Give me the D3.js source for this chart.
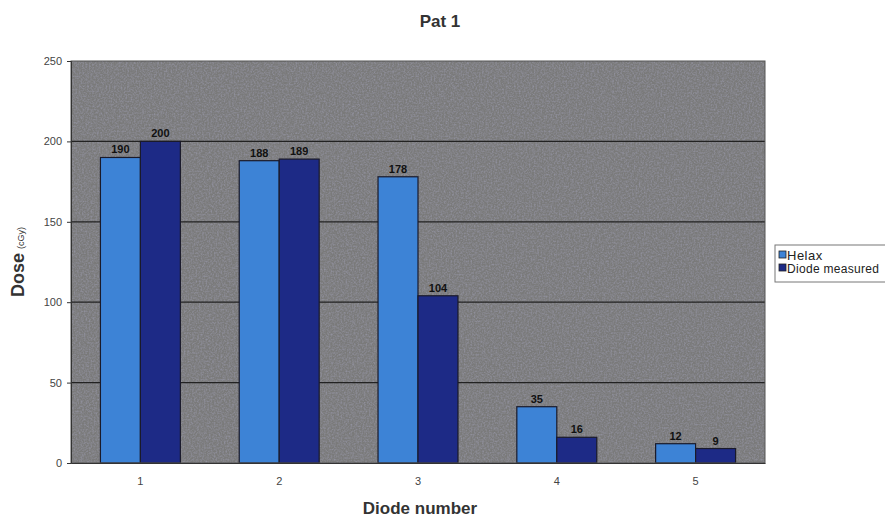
<!DOCTYPE html>
<html>
<head>
<meta charset="utf-8">
<script src="https://cdn.jsdelivr.net/npm/d3@7"></script>
<style>
  html, body { margin: 0; padding: 0; background: #fff; }
  svg { display: block; font-family: Arial, "Liberation Sans", sans-serif; }
</style>
</head>
<body>
<svg id="chart" width="885" height="522"></svg>
<script>
// Dose per diode: planned (Helax) vs measured
const diodes = ["1", "2", "3", "4", "5"];
const seriesNames = ["Helax", "Diode measured"];
const helax = [190, 188, 178, 35, 12];
const measured = [200, 189, 104, 16, 9];
const yTicks = [0, 50, 100, 150, 200, 250];
const colors = ["#3d83d6", "#1d2a86"];

const svg = d3.select("#chart");
const margin = { left: 71, top: 61, right: 885 - 765, bottom: 522 - 463 };
const W = 885, H = 522;
const plotW = W - margin.left - margin.right;
const plotH = H - margin.top - margin.bottom;

const defs = svg.append("defs");
const grain = defs.append("filter").attr("id", "grain")
  .attr("x", 0).attr("y", 0).attr("width", "100%").attr("height", "100%");
grain.append("feTurbulence").attr("type", "fractalNoise")
  .attr("baseFrequency", 0.6).attr("numOctaves", 2).attr("seed", 4).attr("result", "n");
grain.append("feColorMatrix").attr("in", "n").attr("type", "matrix")
  .attr("values", "0 0 0 0 0.40  0 0 0 0 0.40  0 0 0 0 0.55  0 0 0 1.1 -0.4");

const g = svg.append("g").attr("transform", `translate(${margin.left},${margin.top})`);

const x = d3.scaleBand().domain(diodes).range([0, plotW]);
const barW = x.bandwidth() * 0.288;
const xs = d3.scaleBand().domain(seriesNames)
  .range([x.bandwidth() / 2 - barW, x.bandwidth() / 2 + barW]);
const y = d3.scaleLinear().domain([0, 250]).range([plotH, 0]);

// plot background with a grainy gray texture
g.append("rect").attr("width", plotW).attr("height", plotH).attr("fill", "#7a7a7a");
g.append("rect").attr("width", plotW).attr("height", plotH)
  .attr("filter", "url(#grain)").attr("fill", "#7a7a7a").attr("opacity", 0.85);

// horizontal gridlines
g.selectAll("line.grid").data(yTicks.filter(t => t > 0 && t < 250)).join("line")
  .attr("class", "grid")
  .attr("x1", 0).attr("x2", plotW)
  .attr("y1", d => y(d)).attr("y2", d => y(d))
  .attr("stroke", "#222").attr("stroke-width", 1.2);

// bars
const rows = diodes.map((d, i) => ({ d, vals: [helax[i], measured[i]] }));
const grp = g.selectAll("g.cat").data(rows).join("g")
  .attr("class", "cat")
  .attr("transform", r => `translate(${x(r.d)},0)`);
grp.selectAll("rect").data(r => r.vals.map((v, k) => ({ v, k }))).join("rect")
  .attr("x", o => xs(seriesNames[o.k]))
  .attr("y", o => y(o.v))
  .attr("width", xs.bandwidth())
  .attr("height", o => plotH - y(o.v))
  .attr("fill", o => colors[o.k])
  .attr("stroke", "#1a1a2a").attr("stroke-width", 1.2);
grp.selectAll("text").data(r => r.vals.map((v, k) => ({ v, k }))).join("text")
  .attr("x", o => xs(seriesNames[o.k]) + xs.bandwidth() / 2)
  .attr("y", o => y(o.v) - 4)
  .attr("text-anchor", "middle")
  .attr("font-size", 11).attr("font-weight", "bold").attr("fill", "#111")
  .text(o => o.v);

// plot frame
g.append("rect").attr("width", plotW).attr("height", plotH)
  .attr("fill", "none").attr("stroke", "#555").attr("stroke-width", 1);

// y axis
const yAxis = g.append("g").call(d3.axisLeft(y).tickValues(yTicks).tickSize(4).tickPadding(5));
yAxis.select(".domain").attr("stroke", "#333");
yAxis.selectAll(".tick line").attr("stroke", "#333");
yAxis.selectAll("text").attr("font-size", 11).attr("fill", "#444")
  .attr("font-family", "Arial, 'Liberation Sans', sans-serif");

// x axis
const xAxis = g.append("g").attr("transform", `translate(0,${plotH})`)
  .call(d3.axisBottom(x).tickSize(0).tickPadding(14));
xAxis.select(".domain").attr("stroke", "#333");
xAxis.selectAll("text").attr("font-size", 11).attr("fill", "#444")
  .attr("font-family", "Arial, 'Liberation Sans', sans-serif");

// title
svg.append("text").attr("x", 440).attr("y", 27).attr("text-anchor", "middle")
  .attr("font-size", 17).attr("font-weight", "bold").attr("fill", "#333").text("Pat 1");

// axis titles
svg.append("text").attr("x", 420).attr("y", 514).attr("text-anchor", "middle")
  .attr("font-size", 17).attr("font-weight", "bold").attr("fill", "#333").text("Diode number");
const yl = svg.append("text").attr("transform", "translate(24,262) rotate(-90)")
  .attr("text-anchor", "middle").attr("fill", "#333");
yl.append("tspan").attr("font-size", 18).attr("font-weight", "bold").text("Dose");
yl.append("tspan").attr("font-size", 9).attr("dx", 4).text("(cGy)");

// legend
const lg = svg.append("g").attr("transform", "translate(775,245)");
lg.append("rect").attr("width", 115).attr("height", 37)
  .attr("fill", "#fff").attr("stroke", "#777");
seriesNames.forEach((s, i) => {
  lg.append("rect").attr("x", 4).attr("y", 6 + i * 13).attr("width", 7).attr("height", 7)
    .attr("fill", colors[i]).attr("stroke", "#222").attr("stroke-width", 0.8);
  lg.append("text").attr("x", 12).attr("y", 15 + i * 13)
    .attr("font-size", i === 0 ? 13 : 12).attr("letter-spacing", i === 0 ? 0.5 : 0.3)
    .attr("fill", "#222").text(s);
});
</script>
</body>
</html>
